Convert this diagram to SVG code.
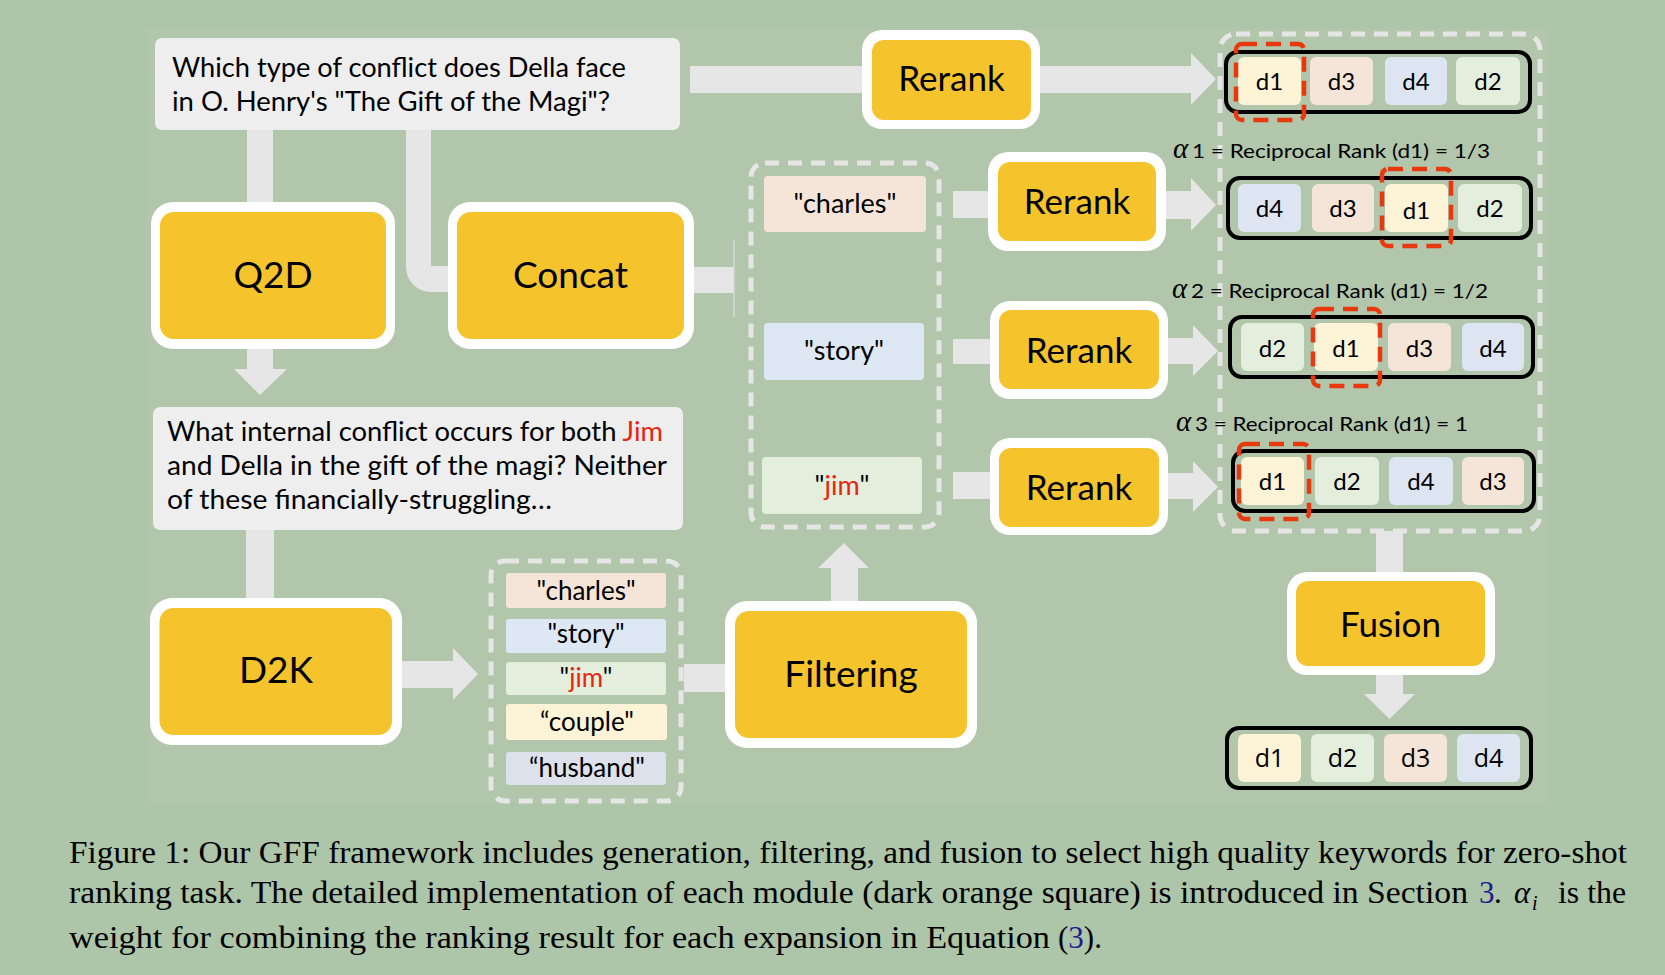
<svg xmlns="http://www.w3.org/2000/svg" width="1665" height="975" viewBox="0 0 1665 975">
<defs>
<style>
.bar{fill:#E6E6E6}
.outer{fill:#FFFFFF}
.inner{fill:#F5C42C}
.lbl{font-family:Lato,"Open Sans",sans-serif;font-size:35px;text-anchor:middle;fill:#000}
.qt{font-family:Lato,"Open Sans",sans-serif;font-size:26px;fill:#000}
.kw{font-family:Lato,"Open Sans",sans-serif;font-size:26px;text-anchor:middle;fill:#000}
.dl{font-family:Lato,"Open Sans",sans-serif;font-size:24px;text-anchor:middle;fill:#000}
.dlf{font-family:"Open Sans",Lato,sans-serif;font-size:25px;text-anchor:middle;fill:#000}
.al{font-family:Lato,"Open Sans",sans-serif;font-size:20px;fill:#000}
.alpha{font-family:"Liberation Serif",serif;font-style:italic;font-size:29px;fill:#000}
.cap{font-family:"Liberation Serif","Times New Roman",serif;font-size:31px;fill:#000}
.blue{fill:#1C1C8F}
.red{fill:#E8230E}
.list{fill:none;stroke:#000;stroke-width:4}
.hl{fill:none;stroke:#E8380D;stroke-width:4.5;stroke-dasharray:15 9}
.dash{fill:none;stroke:#E6E6E6;stroke-width:5;stroke-dasharray:14 9}
.c1{fill:#FDF3D6}.c2{fill:#E4EEDD}.c3{fill:#F5E5D9}.c4{fill:#DDE5F2}.c5{fill:#DDE1EC}.c6{fill:#DEE8F4}
.qbox{fill:#EEEEEE}
</style>
</defs>
<rect x="0" y="0" width="1665" height="975" fill="#ADC5A8"/>
<rect x="145" y="28" width="1405" height="775" fill="#B1C6AB"/>

<g id="connectors">
<rect class="bar" x="690" y="66" width="182" height="27"/>
<polygon class="bar" points="1031,66 1191,66 1191,53 1216,79 1191,105 1191,93 1031,93"/>
<rect class="bar" x="247" y="125" width="26" height="90"/>
<polygon class="bar" points="247,336 273,336 273,369 287,369 260,395 234,369 247,369"/>
<path class="bar" d="M406,125 H431 V266 H462 V292 H431 A25,25 0 0 1 406,267 Z"/>
<rect class="bar" x="680" y="267" width="54" height="26"/>
<line x1="734" y1="240" x2="734" y2="317" stroke="#D3DCCF" stroke-width="1.5"/>
<rect class="bar" x="953" y="191" width="48" height="27"/>
<polygon class="bar" points="1160,191 1191,191 1191,178 1216,205 1191,231 1191,219 1160,219"/>
<rect class="bar" x="953" y="339" width="48" height="25"/>
<polygon class="bar" points="1160,338 1193,338 1193,325 1218,351 1193,376 1193,364 1160,364"/>
<rect class="bar" x="953" y="472" width="48" height="27"/>
<polygon class="bar" points="1160,473 1193,473 1193,461 1218,487 1193,512 1193,499 1160,499"/>
<rect class="bar" x="246" y="526" width="28" height="84"/>
<polygon class="bar" points="392,661 453,661 453,648 478,674 453,700 453,688 392,688"/>
<rect class="bar" x="684" y="664" width="50" height="28"/>
<polygon class="bar" points="831,613 831,568 818,568 844,543 869,568 858,568 858,613"/>
<rect class="bar" x="1376" y="531" width="27" height="50"/>
<polygon class="bar" points="1376,664 1403,664 1403,694 1415,694 1389.5,719 1364,694 1376,694"/>
</g>

<g id="query">
<rect class="qbox" x="155" y="38" width="525" height="92" rx="7"/>
<text class="qt" x="172" y="77" textLength="454" lengthAdjust="spacingAndGlyphs">Which type of conflict does Della face</text>
<text class="qt" x="172" y="111" textLength="438" lengthAdjust="spacingAndGlyphs">in O. Henry's "The Gift of the Magi"?</text>
</g>

<g id="q2d">
<rect class="outer" x="151" y="202" width="244" height="147" rx="22"/>
<rect class="inner" x="160" y="212" width="226" height="127" rx="14"/>
<text class="lbl" x="273" y="288" style="font-size:37px">Q2D</text>
</g>

<g id="concat">
<rect class="outer" x="448" y="202" width="246" height="147" rx="22"/>
<rect class="inner" x="457" y="212" width="227" height="127" rx="14"/>
<text class="lbl" x="570.5" y="288" style="font-size:37px">Concat</text>
</g>

<g id="doc">
<rect class="qbox" x="153" y="407" width="530" height="123" rx="7"/>
<text class="qt" x="167" y="441" textLength="496" lengthAdjust="spacingAndGlyphs">What internal conflict occurs for both <tspan class="red">Jim</tspan></text>
<text class="qt" x="167" y="475" textLength="500" lengthAdjust="spacingAndGlyphs">and Della in the gift of the magi? Neither</text>
<text class="qt" x="167" y="509" textLength="385" lengthAdjust="spacingAndGlyphs">of these financially-struggling…</text>
</g>

<g id="d2k">
<rect class="outer" x="150" y="598" width="252" height="147" rx="22"/>
<rect class="inner" x="159.5" y="608" width="232.5" height="127" rx="14"/>
<text class="lbl" x="276" y="683" style="font-size:37px">D2K</text>
</g>

<g id="keywords-all">
<rect class="dash" x="491" y="561" width="190" height="240" rx="14"/>
<rect class="c3" x="506" y="573" width="160" height="35" rx="3"/>
<rect class="c6" x="506" y="619" width="160" height="34" rx="3"/>
<rect class="c2" x="506" y="662" width="160" height="33" rx="3"/>
<rect class="c1" x="506" y="704" width="161" height="36" rx="3"/>
<rect class="c5" x="506" y="752" width="160" height="33" rx="3"/>
<text class="kw" x="586" y="600">"charles"</text>
<text class="kw" x="586" y="643">"story"</text>
<text class="kw" x="586" y="687">"<tspan class="red">jim</tspan>"</text>
<text class="kw" x="587" y="731">“couple"</text>
<text class="kw" x="587" y="777">“husband"</text>
</g>

<g id="filtering">
<rect class="outer" x="725" y="601" width="252" height="147" rx="22"/>
<rect class="inner" x="735" y="611" width="232" height="127" rx="14"/>
<text class="lbl" x="851" y="687" style="font-size:37px">Filtering</text>
</g>

<g id="keywords-filtered">
<rect class="dash" x="751" y="163" width="188" height="364" rx="14"/>
<rect class="c3" x="764" y="176" width="162" height="56" rx="4"/>
<rect class="c6" x="764" y="323" width="160" height="57" rx="4"/>
<rect class="c2" x="762" y="457" width="160" height="57" rx="4"/>
<text class="kw" x="845" y="213" style="font-size:27px">"charles"</text>
<text class="kw" x="844" y="360" style="font-size:27px">"story"</text>
<text class="kw" x="842" y="495" style="font-size:27px">"<tspan class="red">jim</tspan>"</text>
</g>

<g id="rerank0">
<rect class="outer" x="862" y="30" width="178" height="99" rx="20"/>
<rect class="inner" x="872" y="40" width="159" height="80" rx="12"/>
<text class="lbl" x="951.5" y="91">Rerank</text>
</g>
<g id="rerank1">
<rect class="outer" x="988" y="152" width="178" height="99" rx="20"/>
<rect class="inner" x="998" y="162" width="158" height="79" rx="12"/>
<text class="lbl" x="1077" y="214">Rerank</text>
</g>
<g id="rerank2">
<rect class="outer" x="990" y="301" width="178" height="98" rx="20"/>
<rect class="inner" x="999" y="310" width="160" height="79" rx="12"/>
<text class="lbl" x="1079" y="363">Rerank</text>
</g>
<g id="rerank3">
<rect class="outer" x="990" y="438" width="178" height="97" rx="20"/>
<rect class="inner" x="999" y="448" width="160" height="79" rx="12"/>
<text class="lbl" x="1079" y="500">Rerank</text>
</g>

<g id="rankings">
<rect class="dash" x="1220" y="34" width="320" height="497" rx="16"/>

<rect class="list" x="1226" y="52" width="304" height="60" rx="12"/>
<rect class="c1" x="1238" y="57" width="63" height="48" rx="6"/>
<rect class="c3" x="1310" y="57" width="63" height="48" rx="6"/>
<rect class="c4" x="1385" y="57" width="62" height="48" rx="6"/>
<rect class="c2" x="1456" y="57" width="64" height="48" rx="6"/>
<text class="dl" x="1269.5" y="90">d1</text>
<text class="dl" x="1341.5" y="90">d3</text>
<text class="dl" x="1416" y="90">d4</text>
<text class="dl" x="1488" y="90">d2</text>
<rect class="hl" x="1236" y="44" width="68" height="76" rx="6"/>

<text class="alpha" x="1173" y="158">α</text>
<text class="al" x="1192" y="158" textLength="298" lengthAdjust="spacingAndGlyphs">1 = Reciprocal Rank (d1) = 1/3</text>
<rect class="list" x="1228" y="178" width="303" height="60" rx="12"/>
<rect class="c4" x="1238" y="184" width="63" height="48" rx="6"/>
<rect class="c3" x="1312" y="184" width="62" height="48" rx="6"/>
<rect class="c1" x="1385" y="184" width="63" height="48" rx="6"/>
<rect class="c2" x="1458" y="184" width="64" height="48" rx="6"/>
<text class="dl" x="1269.5" y="217">d4</text>
<text class="dl" x="1343" y="217">d3</text>
<text class="dl" x="1416.5" y="219">d1</text>
<text class="dl" x="1490" y="217">d2</text>
<rect class="hl" x="1382" y="169" width="69" height="77" rx="6"/>

<text class="alpha" x="1172" y="298">α</text>
<text class="al" x="1191" y="298" textLength="297" lengthAdjust="spacingAndGlyphs">2 = Reciprocal Rank (d1) = 1/2</text>
<rect class="list" x="1230" y="317" width="303" height="60" rx="12"/>
<rect class="c2" x="1241" y="323" width="63" height="48" rx="6"/>
<rect class="c1" x="1314" y="323" width="64" height="48" rx="6"/>
<rect class="c3" x="1388" y="323" width="63" height="48" rx="6"/>
<rect class="c4" x="1462" y="323" width="62" height="48" rx="6"/>
<text class="dl" x="1272.5" y="357">d2</text>
<text class="dl" x="1346" y="357">d1</text>
<text class="dl" x="1419.5" y="357">d3</text>
<text class="dl" x="1493" y="357">d4</text>
<rect class="hl" x="1313" y="309" width="67" height="77" rx="6"/>

<text class="alpha" x="1176" y="431">α</text>
<text class="al" x="1195" y="431" textLength="273" lengthAdjust="spacingAndGlyphs">3 = Reciprocal Rank (d1) = 1</text>
<rect class="list" x="1233" y="451" width="301" height="60" rx="12"/>
<rect class="c1" x="1241" y="457" width="63" height="48" rx="6"/>
<rect class="c2" x="1315" y="457" width="64" height="48" rx="6"/>
<rect class="c4" x="1389" y="457" width="64" height="48" rx="6"/>
<rect class="c3" x="1462" y="457" width="62" height="48" rx="6"/>
<text class="dl" x="1272.5" y="490">d1</text>
<text class="dl" x="1347" y="490">d2</text>
<text class="dl" x="1421" y="490">d4</text>
<text class="dl" x="1493" y="490">d3</text>
<rect class="hl" x="1239" y="444" width="70" height="75" rx="6"/>
</g>

<g id="fusion">
<rect class="outer" x="1287" y="572" width="208" height="103" rx="20"/>
<rect class="inner" x="1296" y="581" width="189" height="85" rx="12"/>
<text class="lbl" x="1390.5" y="637">Fusion</text>
</g>

<g id="final-ranking">
<rect class="list" x="1227" y="728" width="304" height="60" rx="12"/>
<rect class="c1" x="1238" y="734" width="63" height="48" rx="6"/>
<rect class="c2" x="1311" y="734" width="63" height="48" rx="6"/>
<rect class="c3" x="1384" y="734" width="63" height="48" rx="6"/>
<rect class="c4" x="1457" y="734" width="63" height="48" rx="6"/>
<text class="dlf" x="1269.5" y="767">d1</text>
<text class="dlf" x="1342.5" y="767">d2</text>
<text class="dlf" x="1415.5" y="767">d3</text>
<text class="dlf" x="1488.5" y="767">d4</text>
</g>

<g id="caption">
<text class="cap" x="69" y="863" textLength="1558" lengthAdjust="spacingAndGlyphs">Figure 1: Our GFF framework includes generation, filtering, and fusion to select high quality keywords for zero-shot</text>
<text class="cap" x="69" y="903" textLength="1399" lengthAdjust="spacingAndGlyphs">ranking task. The detailed implementation of each module (dark orange square) is introduced in Section</text>
<text class="cap blue" x="1479" y="903">3</text>
<text class="cap" x="1494" y="903">.</text>
<text class="cap" x="1514" y="903" style="font-style:italic">α</text>
<text class="cap" x="1532" y="910" style="font-style:italic;font-size:20px">i</text>
<text class="cap" x="1626" y="903" text-anchor="end" textLength="68" lengthAdjust="spacingAndGlyphs">is the</text>
<text class="cap" x="69" y="948" textLength="981" lengthAdjust="spacingAndGlyphs">weight for combining the ranking result for each expansion in Equation</text>
<text class="cap" x="1058" y="948">(<tspan class="blue">3</tspan>).</text>
</g>
</svg>
